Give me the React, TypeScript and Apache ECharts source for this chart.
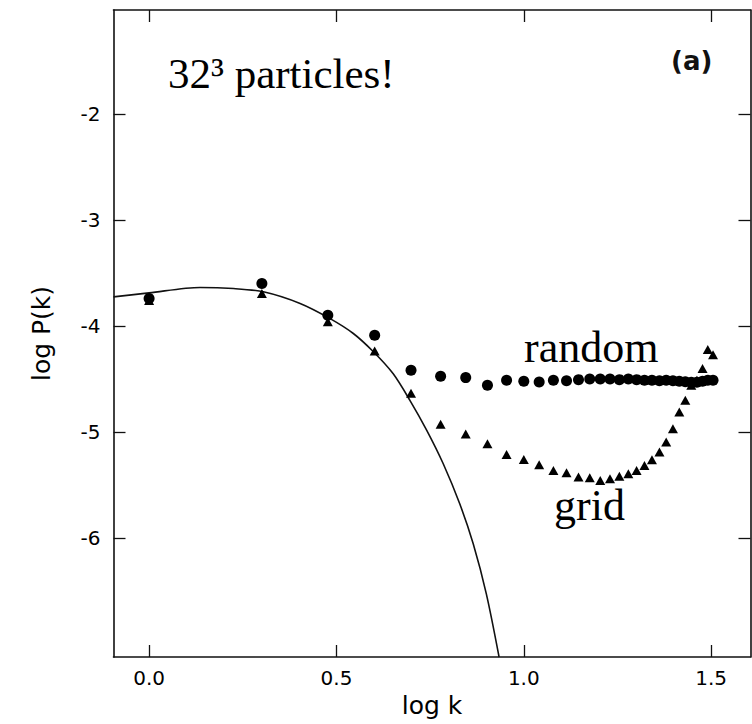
import React, { useEffect, useRef } from "react";
import * as echarts from "echarts";

// Wavenumber positions, log k for k = 1 .. 32
const logK = [
  0.0, 0.301, 0.477, 0.602, 0.699, 0.778, 0.845, 0.903, 0.954, 1.0, 1.041,
  1.079, 1.114, 1.146, 1.176, 1.204, 1.23, 1.255, 1.279, 1.301, 1.322, 1.342,
  1.362, 1.38, 1.398, 1.415, 1.431, 1.447, 1.462, 1.477, 1.491, 1.505,
];

// Measured log P(k), random particle start
const randomLogP = [
  -3.74, -3.598, -3.897, -4.086, -4.417, -4.473, -4.486, -4.558, -4.511, -4.52,
  -4.527, -4.511, -4.515, -4.505, -4.5, -4.5, -4.5, -4.505, -4.5, -4.505,
  -4.51, -4.51, -4.515, -4.51, -4.515, -4.52, -4.525, -4.53, -4.53, -4.52,
  -4.51, -4.51,
];

// Measured log P(k), grid particle start
const gridLogP = [
  -3.76, -3.693, -3.96, -4.235, -4.634, -4.926, -5.018, -5.109, -5.21, -5.257,
  -5.307, -5.361, -5.383, -5.424, -5.43, -5.455, -5.44, -5.415, -5.392, -5.361,
  -5.314, -5.26, -5.188, -5.094, -4.968, -4.81, -4.7, -4.558, -4.51, -4.4,
  -4.22, -4.27,
];

// Input spectrum curve
const curveX = [
  -0.095, 0.0, 0.136, 0.225, 0.305, 0.403, 0.483, 0.545, 0.598, 0.651, 0.696,
  0.741, 0.785, 0.829, 0.865, 0.9, 0.934,
];
const curveY = [
  -3.725, -3.687, -3.636, -3.646, -3.677, -3.787, -3.93, -4.07, -4.24, -4.448,
  -4.7, -4.983, -5.298, -5.675, -6.053, -6.525, -7.12,
];

const xTicks = [0, 0.5, 1.0, 1.5];
const yTicks = [-6, -5, -4, -3, -2];

const X_MIN = -0.095;
const X_MAX = 1.605;
const Y_MIN = -7.12;
const Y_MAX = -1.02;

const AXIS_FONT = "DejaVu Sans";
const SERIF = "Liberation Serif";

export default function App() {
  const ref = useRef<HTMLDivElement>(null);

  useEffect(() => {
    if (!ref.current) return;
    const chart = echarts.init(ref.current, undefined, { renderer: "svg" });

    const lineStyle = { color: "#111", width: 1.6 };

    const baseX = {
      type: "value" as const,
      min: X_MIN,
      max: X_MAX,
      splitLine: { show: false },
      axisLine: { show: true, onZero: false, lineStyle },
      axisTick: {
        show: true,
        inside: true,
        length: 12,
        customValues: xTicks,
        lineStyle: { color: "#111", width: 1.3 },
      },
    };
    const baseY = {
      type: "value" as const,
      min: Y_MIN,
      max: Y_MAX,
      splitLine: { show: false },
      axisLine: { show: true, onZero: false, lineStyle },
      axisTick: {
        show: true,
        inside: true,
        length: 12,
        customValues: yTicks,
        lineStyle: { color: "#111", width: 1.3 },
      },
    };

    chart.setOption({
      animation: false,
      backgroundColor: "#fff",
      grid: { left: 113.5, top: 10, width: 637, height: 647 },
      xAxis: [
        {
          ...baseX,
          position: "bottom",
          name: "log k",
          nameLocation: "middle",
          nameGap: 33,
          nameTextStyle: {
            fontFamily: AXIS_FONT,
            fontSize: 25,
            fontWeight: 500,
            color: "#000",
          },
          axisLabel: {
            show: true,
            customValues: xTicks,
            margin: 11,
            fontFamily: AXIS_FONT,
            fontSize: 20,
            color: "#000",
            formatter: (v: number) => v.toFixed(1),
          },
        },
        { ...baseX, position: "top", axisLabel: { show: false } },
      ],
      yAxis: [
        {
          ...baseY,
          position: "left",
          name: "log P(k)",
          nameLocation: "middle",
          nameGap: 60,
          nameRotate: 90,
          nameTextStyle: {
            fontFamily: AXIS_FONT,
            fontSize: 25,
            fontWeight: 500,
            color: "#000",
          },
          axisLabel: {
            show: true,
            customValues: yTicks,
            margin: 13,
            fontFamily: AXIS_FONT,
            fontSize: 20,
            color: "#000",
            formatter: (v: number) => String(v),
          },
        },
        { ...baseY, position: "right", axisLabel: { show: false } },
      ],
      series: [
        {
          type: "line",
          data: curveX.map((x, i) => [x, curveY[i]]),
          smooth: 0.3,
          showSymbol: false,
          clip: true,
          lineStyle: { color: "#111", width: 1.6 },
          z: 2,
        },
        {
          type: "scatter",
          name: "random",
          data: logK.map((x, i) => [x, randomLogP[i]]),
          symbol: "circle",
          symbolSize: 11,
          itemStyle: { color: "#000", opacity: 1 },
          z: 3,
        },
        {
          type: "scatter",
          name: "grid",
          data: logK.map((x, i) => [x, gridLogP[i]]),
          symbol: "triangle",
          symbolSize: [10, 9],
          itemStyle: { color: "#000", opacity: 1 },
          z: 4,
        },
      ],
      graphic: [
        {
          type: "text",
          left: 168,
          top: 52,
          style: {
            text: "32³ particles!",
            fontFamily: SERIF,
            fontSize: 43,
            fill: "#000",
          },
        },
        {
          type: "text",
          left: 671,
          top: 48,
          style: {
            text: "(a)",
            fontFamily: AXIS_FONT,
            fontSize: 26,
            fontWeight: "bold",
            fill: "#111",
          },
        },
        {
          type: "text",
          left: 524,
          top: 325,
          style: {
            text: "random",
            fontFamily: SERIF,
            fontSize: 44,
            fill: "#000",
          },
        },
        {
          type: "text",
          left: 554,
          top: 483,
          style: {
            text: "grid",
            fontFamily: SERIF,
            fontSize: 44,
            fill: "#000",
          },
        },
      ],
    });

    return () => chart.dispose();
  }, []);

  return (
    <div
      ref={ref}
      style={{ position: "absolute", left: 0, top: 0, width: 752, height: 724 }}
    />
  );
}
